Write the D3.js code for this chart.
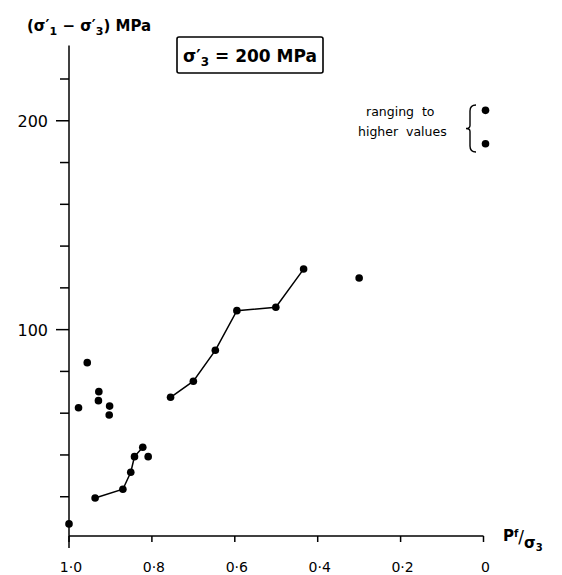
<!DOCTYPE html>
<html><head><meta charset="utf-8">
<script src="https://cdn.jsdelivr.net/npm/d3@7"></script>
<style>body{margin:0;background:#fff}svg{display:block}text{font-family:"DejaVu Sans",sans-serif;fill:#000}</style>
</head><body>
<script>
// Data: x = Pf/σ'3, y = (σ'1 - σ'3) MPa
const isolatedX = [1.0, 0.977, 0.956, 0.928, 0.929, 0.902, 0.903, 0.809, 0.300];
const isolatedY = [7, 62.6, 84.2, 70.3, 66.0, 63.4, 59.1, 39.2, 124.7];
const seriesAX = [0.937, 0.870, 0.851, 0.842, 0.822];
const seriesAY = [19.4, 23.6, 31.7, 39.2, 43.7];
const seriesBX = [0.755, 0.700, 0.647, 0.595, 0.501, 0.434];
const seriesBY = [67.6, 75.3, 90.1, 109.1, 110.7, 129.0];
const higherX = [0, 0];
const higherY = [205, 189];
const xTicks = [1.0, 0.8, 0.6, 0.4, 0.2, 0];
const xTickLabels = ["1·0", "0·8", "0·6", "0·4", "0·2", "0"];
const yTicks = [20, 40, 60, 80, 100, 120, 140, 160, 180, 200, 220];
const yLabelTicks = [100, 200];

const W = 562, H = 575;
const svg = d3.select("body").append("svg").attr("width", W).attr("height", H);
const x = d3.scaleLinear().domain([1, 0]).range([69, 483.5]);
const y = d3.scaleLinear().domain([0, 220]).range([538.5, 79]);
const axisY = 536;

// y axis line
svg.append("line").attr("x1", x(1)).attr("x2", x(1)).attr("y1", y(236)).attr("y2", axisY + 12)
  .attr("stroke", "#000").attr("stroke-width", 1.5);
// y ticks
svg.selectAll(".yt").data(yTicks).enter().append("line")
  .attr("x1", d => x(1) - (yLabelTicks.includes(d) ? 13 : 9)).attr("x2", x(1))
  .attr("y1", d => y(d)).attr("y2", d => y(d)).attr("stroke", "#000").attr("stroke-width", 1.5);
svg.selectAll(".yl").data(yLabelTicks).enter().append("text")
  .attr("x", 48).attr("y", d => y(d) + 6).attr("text-anchor", "end")
  .attr("font-size", 16).text(d => d);

// x axis line
svg.append("line").attr("x1", x(1)).attr("x2", x(0)).attr("y1", axisY).attr("y2", axisY)
  .attr("stroke", "#000").attr("stroke-width", 1.5);
svg.selectAll(".xt").data(xTicks).enter().append("line")
  .attr("x1", d => x(d)).attr("x2", d => x(d)).attr("y1", axisY).attr("y2", axisY + 6)
  .attr("stroke", "#000").attr("stroke-width", 1.5);
svg.selectAll(".xl").data(xTicks).enter().append("text")
  .attr("x", d => x(d) + 2).attr("y", 572).attr("text-anchor", "middle")
  .attr("font-size", 14).text((d, i) => xTickLabels[i]);

// y title
const yt = svg.append("text").attr("x", 27).attr("y", 31).attr("font-size", 15).attr("font-weight", "bold");
yt.append("tspan").text("(σ′");
yt.append("tspan").attr("font-size", 11).attr("dy", 4).text("1");
yt.append("tspan").attr("dy", -4).text(" − σ′");
yt.append("tspan").attr("font-size", 11).attr("dy", 4).text("3");
yt.append("tspan").attr("dy", -4).text(") MPa");

// x title
const xt = svg.append("text").attr("x", 503).attr("y", 541).attr("font-size", 15).attr("font-weight", "bold");
xt.append("tspan").text("P");
xt.append("tspan").attr("font-size", 10).attr("dy", -4).text("f");
xt.append("tspan").attr("dy", 6).attr("font-size", 17).attr("font-weight", "normal").text("/");
xt.append("tspan").attr("dy", 5).text("σ");
xt.append("tspan").attr("font-size", 10).attr("dy", 3).text("3");

// box
svg.append("rect").attr("x", 177).attr("y", 37).attr("width", 146).attr("height", 36)
  .attr("fill", "none").attr("stroke", "#000").attr("stroke-width", 1.6).attr("rx", 2);
const bt = svg.append("text").attr("x", 250).attr("y", 62).attr("text-anchor", "middle")
  .attr("font-size", 17).attr("font-weight", "bold");
bt.append("tspan").text("σ′");
bt.append("tspan").attr("font-size", 12).attr("dy", 4).text("3");
bt.append("tspan").attr("dy", -4).text(" = 200 MPa");

// annotation
svg.append("text").attr("x", 366).attr("y", 116).attr("font-size", 12.5).attr("xml:space", "preserve").text("ranging  to");
svg.append("text").attr("x", 358).attr("y", 136).attr("font-size", 12.5).attr("xml:space", "preserve").text("higher  values");
const by0 = 105, by1 = 152, bm = (by0 + by1) / 2;
svg.append("path")
  .attr("d", `M476,${by0} Q470,${by0} 470,${by0 + 6} L470,${bm - 3} Q470,${bm} 466,${bm} Q470,${bm} 470,${bm + 3} L470,${by1 - 6} Q470,${by1} 476,${by1}`)
  .attr("fill", "none").attr("stroke", "#000").attr("stroke-width", 1.4);

// lines
const line = d3.line().x(d => x(d[0])).y(d => y(d[1]));
[[seriesAX, seriesAY], [seriesBX, seriesBY]].forEach(([xs, ys]) => {
  const pts = xs.map((v, i) => [v, ys[i]]);
  svg.append("path").datum(pts).attr("d", line).attr("fill", "none").attr("stroke", "#000").attr("stroke-width", 1.5);
  svg.selectAll(null).data(pts).enter().append("circle")
    .attr("cx", d => x(d[0])).attr("cy", d => y(d[1])).attr("r", 3.8).attr("fill", "#000");
});
svg.selectAll(".iso").data(isolatedX.map((v, i) => [v, isolatedY[i]])).enter().append("circle")
  .attr("cx", d => x(d[0])).attr("cy", d => y(d[1])).attr("r", 3.8).attr("fill", "#000");
svg.selectAll(".hi").data(higherX.map((v, i) => [v, higherY[i]])).enter().append("circle")
  .attr("cx", d => x(d[0]) + 2).attr("cy", d => y(d[1])).attr("r", 3.8).attr("fill", "#000");
</script>
</body></html>
